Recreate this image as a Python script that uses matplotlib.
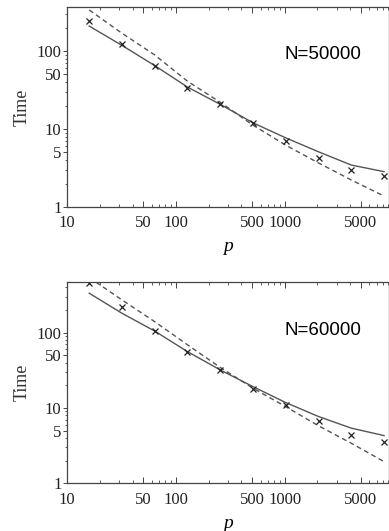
import numpy as np
import matplotlib
matplotlib.use('Agg')
import matplotlib.pyplot as plt
from matplotlib.ticker import FixedLocator, NullFormatter, LogLocator

p_vals = [16, 32, 64, 128, 256, 512, 1024, 2048, 4096, 8192]

# N=50000
meas_50k = [242, 123, 65, 33.8, 20.7, 11.8, 7.0, 4.25, 3.0, 2.5]
fit_50k = [209, 118, 65, 34.5, 20.7, 12, 7.7, 5.1, 3.45, 2.84]
ideal_50k = [336, 169, 89, 41, 22, 11.2, 6.2, 3.67, 2.22, 1.38]

# N=60000
meas_60k = [453, 221, 105, 56, 32, 17.9, 11, 6.7, 4.4, 3.5]
fit_60k = [334, 181, 105, 56, 32, 19.2, 11.8, 7.7, 5.4, 4.3]
ideal_60k = [540, 272, 140, 69, 34.5, 18.3, 10.4, 5.8, 3.4, 1.94]

panels = ['N=50000', 'N=60000']
ytops = [370, 475]

x_ticks = [10, 50, 100, 500, 1000, 5000]
y_ticks = [1, 5, 10, 50, 100]

serif = 'Liberation Serif'
fig = plt.figure(figsize=(3.89, 5.31), dpi=100)

axes_rects = [[67/389, 1 - 207/531, 321.5/389, 200.3/531],
              [67/389, 1 - 483.3/531, 321.5/389, 201.6/531]]
data = [(meas_50k, fit_50k, ideal_50k), (meas_60k, fit_60k, ideal_60k)]

for i in range(2):
    ax = fig.add_axes(axes_rects[i])
    meas, fit, ideal = data[i]
    ax.plot(p_vals, fit, color='#555555', lw=1.0)
    ax.plot(p_vals, ideal, color='#555555', lw=1.0, ls=(0, (3.5, 2.5)))
    ax.plot(p_vals, meas, ls='none', marker='x', ms=5, mew=0.9, color='#222222')
    ax.set_xscale('log')
    ax.set_yscale('log')
    ax.set_xlim(10, 9000)
    ax.set_ylim(1, ytops[i])

    ax.xaxis.set_major_locator(FixedLocator(x_ticks))
    ax.set_xticklabels([str(t) for t in x_ticks])
    ax.xaxis.set_minor_locator(LogLocator(base=10, subs=np.arange(2, 10)))
    ax.xaxis.set_minor_formatter(NullFormatter())
    ax.yaxis.set_major_locator(FixedLocator(y_ticks))
    ax.set_yticklabels([str(t) for t in y_ticks])
    ax.yaxis.set_minor_locator(LogLocator(base=10, subs=np.arange(2, 10)))
    ax.yaxis.set_minor_formatter(NullFormatter())

    ax.tick_params(axis='x', which='both', direction='in', top=True, colors='#444444',
                   labelcolor='#222222', pad=6, labelsize=12)
    ax.tick_params(axis='x', which='major', length=4, width=0.7)
    ax.tick_params(axis='x', which='minor', length=2, width=0.6)
    ax.tick_params(axis='y', which='both', direction='out', right=True, colors='#444444',
                   labelcolor='#222222', pad=1, labelsize=12)
    ax.tick_params(axis='y', which='major', length=3, width=0.7)
    ax.tick_params(axis='y', which='minor', length=1.5, width=0.6)
    for lab in ax.get_xticklabels() + ax.get_yticklabels():
        lab.set_family(serif)
    for s in ax.spines.values():
        s.set_color('#444444')
        s.set_linewidth(0.9)

    ax.set_ylabel('Time', family=serif, fontsize=13, color='#333333', labelpad=4)
    ax.set_xlabel('p', family=serif, style='italic', fontsize=14, labelpad=5)
    ax.text(0.678, 0.76, panels[i], transform=ax.transAxes, family='Liberation Sans',
            fontsize=13.5, va='center', ha='left')

fig.savefig('out.png', dpi=100)
